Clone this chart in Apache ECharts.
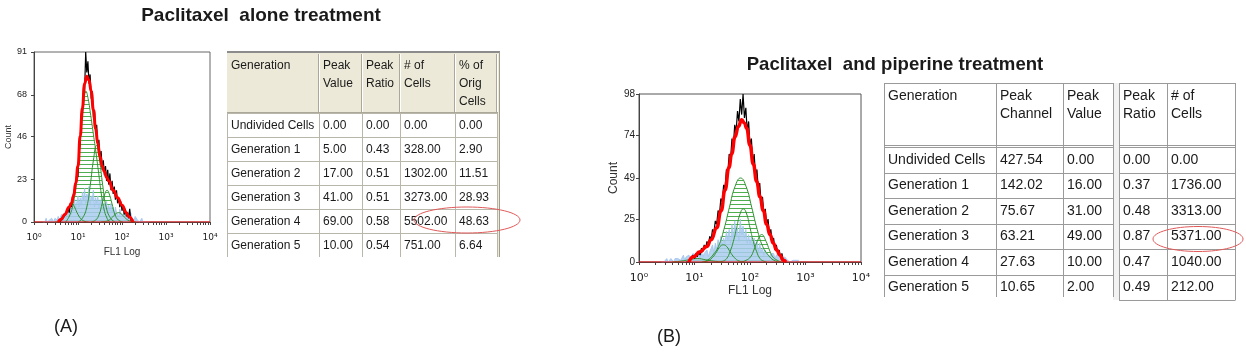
<!DOCTYPE html>
<html>
<head>
<meta charset="utf-8">
<title>Paclitaxel treatment - cell proliferation</title>
<script src="https://cdn.jsdelivr.net/npm/echarts@6/dist/echarts.min.js"></script>
<style>
	html, body { margin: 0; padding: 0; background: #fff; }
	#map { width: 1246px; height: 353px; }
</style>
</head>
<body>
<div id="map"></div>
<script>
// tick labels
var xTickLabels = ['10\u2070', '10\u00b9', '10\u00b2', '10\u00b3', '10\u2074'];
var yTicksA = [0, 23, 46, 68, 91];
var yTicksB = [0, 25, 49, 74, 98];

// tables
var generations = ['Undivided Cells', 'Generation 1', 'Generation 2', 'Generation 3', 'Generation 4', 'Generation 5'];
var headerA = [['Generation'], ['Peak', 'Value'], ['Peak', 'Ratio'], ['# of', 'Cells'], ['% of', 'Orig', 'Cells']];
var peakValueA = [0, 5, 17, 41, 69, 10];
var peakRatioA = [0, 0.43, 0.51, 0.51, 0.58, 0.54];
var cellsA = [0, 328, 1302, 3273, 5502, 751];
var origCellsA = [0, 2.90, 11.51, 28.93, 48.63, 6.64];

var headerB = [['Generation'], ['Peak', 'Channel'], ['Peak', 'Value'], ['Peak', 'Ratio'], ['# of', 'Cells']];
var peakChannelB = [427.54, 142.02, 75.67, 63.21, 27.63, 10.65];
var peakValueB = [0, 16, 31, 49, 10, 2];
var peakRatioB = [0, 0.37, 0.48, 0.87, 0.47, 0.49];
var cellsB = [0, 1736, 3313, 5371, 1040, 212];

// histograms (x in decades of FL1, one bin = 0.025 decade)
var binWidth = 0.025;
var histAStart = 0.55;
var histA = [0, 1, 0, 2, 1, 3, 2, 5, 4, 7, 5, 10, 8, 13, 12, 18, 17, 26, 24, 38,
	42, 58, 55, 72, 70, 91, 80, 86, 74, 79, 66, 70, 56, 60, 48, 52, 40, 44, 33, 38,
	28, 33, 25, 30, 22, 28, 20, 26, 17, 22, 15, 19, 12, 17, 10, 13, 8, 11, 6, 9,
	4, 7, 3, 5, 2, 7, 1, 2, 0];
var blueAStart = 0.2;
var blueA = [0, 1, 0, 2, 0, 1, 1, 0, 2, 1, 0, 2, 1, 1, 3, 1, 2, 4, 2, 3, 5, 2, 4, 6, 3,
	8, 4, 9, 6, 12, 7, 11, 14, 8, 13, 9, 16, 12, 18, 10, 15, 13, 19, 9, 14, 12, 17, 8, 13,
	10, 14, 7, 12, 9, 13, 6, 10, 8, 11, 5, 9, 6, 10, 5, 8, 4, 8, 5, 6, 3, 7, 4, 5,
	3, 6, 4, 5, 2, 4, 3, 5, 2, 3, 1, 3, 2, 1, 2, 0, 1, 2, 0, 1, 0, 1, 0, 0];
var fitA = [[0.55, 0], [0.62, 1.5], [0.7, 4], [0.8, 8], [0.85, 10], [0.9, 14], [0.95, 21], [1.0, 30],
	[1.05, 46], [1.1, 61], [1.15, 74], [1.2, 78], [1.25, 76], [1.3, 70], [1.35, 60], [1.4, 50],
	[1.45, 42], [1.5, 35], [1.55, 30], [1.6, 27], [1.65, 24], [1.7, 22], [1.8, 17], [1.9, 13],
	[2.0, 9], [2.1, 5], [2.15, 3], [2.25, 0]];
var gensA = [
	[[0.48, 0], [0.56, 0.3], [0.64, 1.4], [0.72, 4], [0.80, 8], [0.86, 10], [0.92, 8], [1.0, 4], [1.08, 1.4], [1.16, 0.3], [1.24, 0]],
	[[0.72, 0], [0.82, 4], [0.9, 11], [0.96, 20], [1.02, 34], [1.08, 52], [1.13, 64], [1.18, 70], [1.23, 66], [1.29, 57],
		[1.35, 47], [1.41, 37], [1.47, 26], [1.53, 15], [1.59, 7], [1.66, 2], [1.72, 0]],
	[[1.0, 0], [1.1, 2], [1.2, 8], [1.28, 20], [1.35, 33], [1.42, 41], [1.49, 33], [1.56, 20], [1.64, 8], [1.74, 2], [1.84, 0]],
	[[1.3, 0], [1.4, 1], [1.48, 4], [1.55, 10], [1.61, 15], [1.66, 17], [1.71, 15], [1.77, 10], [1.84, 4], [1.92, 1], [2.02, 0]],
	[[1.52, 0], [1.60, 0.2], [1.68, 0.7], [1.76, 2], [1.84, 4], [1.92, 5], [2.0, 4], [2.08, 2], [2.16, 0.7], [2.24, 0.2], [2.32, 0]]
];

var histBStart = 0.85;
var histB = [0, 1, 0, 2, 1, 4, 2, 5, 3, 6, 4, 8, 6, 10, 8, 12, 10, 15, 13, 19,
	17, 24, 22, 30, 28, 37, 35, 45, 43, 54, 52, 63, 60, 72, 68, 80, 76, 88, 82, 95,
	86, 98, 84, 90, 76, 82, 68, 72, 58, 63, 50, 54, 42, 46, 34, 38, 28, 31, 22, 25,
	16, 19, 11, 14, 7, 10, 5, 7, 3, 5, 1, 2, 0];
var blueBStart = 0.4;
var blueB = [0, 1, 0, 1, 2, 0, 1, 2, 1, 0, 2, 1, 2, 3, 1, 2, 4, 1, 3, 2, 4, 2, 3, 5,
	2, 4, 3, 5, 2, 6, 3, 5, 4, 7, 3, 6, 6, 10, 5, 11, 7, 13, 9, 15, 10, 14, 11, 18,
	13, 19, 11, 22, 14, 24, 15, 20, 12, 25, 16, 21, 14, 19, 11, 16, 10, 15, 9, 14, 8, 12, 6, 11,
	6, 8, 4, 7, 5, 6, 3, 5, 4, 5, 2, 4, 3, 4, 2, 3, 1, 3, 2, 1, 2, 0, 1, 1, 0, 1, 0, 1, 0];
var fitB = [[0.9, 0], [0.98, 3], [1.1, 6], [1.22, 9], [1.3, 13], [1.4, 20], [1.48, 30], [1.55, 42],
	[1.62, 55], [1.67, 63], [1.73, 73], [1.79, 79], [1.85, 83], [1.9, 81], [1.94, 78], [2.0, 68],
	[2.06, 57], [2.12, 47], [2.18, 38], [2.24, 30], [2.3, 22], [2.36, 16], [2.42, 11], [2.48, 7],
	[2.54, 4], [2.6, 1], [2.65, 0]];
var gensB = [
	[[0.6, 0], [0.75, 0.5], [0.9, 1.3], [1.05, 2], [1.2, 1.3], [1.35, 0.5], [1.5, 0]],
	[[1.16, 0], [1.24, 0.6], [1.32, 2.5], [1.40, 6], [1.46, 9], [1.52, 10], [1.58, 9], [1.64, 6], [1.72, 2.5], [1.80, 0.6], [1.88, 0]],
	[[1.13, 0], [1.23, 1], [1.33, 4], [1.43, 9], [1.53, 19], [1.63, 32], [1.73, 44], [1.83, 49], [1.93, 44], [2.03, 32],
		[2.13, 19], [2.23, 9], [2.33, 4], [2.43, 1], [2.53, 0]],
	[[1.46, 0], [1.52, 0.6], [1.58, 2], [1.64, 6], [1.70, 12], [1.76, 20], [1.82, 28], [1.88, 31], [1.94, 28], [2.0, 20],
		[2.06, 12], [2.12, 6], [2.18, 2], [2.24, 0.6], [2.30, 0]],
	[[1.85, 0], [1.93, 1], [2.01, 3], [2.07, 7], [2.13, 12], [2.21, 16], [2.29, 12], [2.35, 7], [2.41, 3], [2.49, 1], [2.57, 0]]
];

function bins(start, values) {
	var out = [];
	for (var i = 0; i < values.length; i++) {
		out.push([+(start + i * binWidth).toFixed(3), values[i]]);
	}
	return out;
}

// green horizontal hatch used to fill the generation peaks
function hatch(gap) {
	var c = document.createElement('canvas');
	c.width = 8;
	c.height = gap;
	var ctx = c.getContext('2d');
	ctx.fillStyle = '#4fae4f';
	ctx.fillRect(0, 0, 8, 1);
	return c;
}

// log ticks 1..9 in every decade
var logTicks = [];
for (var d = 0; d < 4; d++) {
	for (var k = 1; k < 10; k++) logTicks.push(d + Math.log10(k));
}
logTicks.push(4);

function panelSeries(gi, blueStart, blue, gens, histStart, hist, fit, fitWidth, gap) {
	var img = hatch(gap);
	var list = [];
	var i;
	// hatch first, then the blue events, then the peak outlines
	for (i = 0; i < gens.length; i++) {
		list.push({
			type: 'line', xAxisIndex: gi, yAxisIndex: gi, data: gens[i], smooth: true,
			symbol: 'none', lineStyle: { width: 0 },
			areaStyle: { color: { image: img, repeat: 'repeat' }, opacity: 1 }, z: 1
		});
	}
	list.push({
		type: 'line', xAxisIndex: gi, yAxisIndex: gi, data: bins(blueStart, blue),
		symbol: 'none', lineStyle: { color: '#a4c7ee', width: 1, opacity: 0.9 },
		areaStyle: { color: '#a9cbef', opacity: 0.85 }, z: 2
	});
	for (i = 0; i < gens.length; i++) {
		list.push({
			type: 'line', xAxisIndex: gi, yAxisIndex: gi, data: gens[i], smooth: true,
			symbol: 'none', lineStyle: { color: '#2f912f', width: 1 }, z: 3
		});
	}
	list.push({
		type: 'line', xAxisIndex: gi, yAxisIndex: gi, data: bins(histStart, hist),
		symbol: 'none', lineStyle: { color: '#000', width: 1.2 }, z: 4
	});
	list.push({
		type: 'line', xAxisIndex: gi, yAxisIndex: gi, data: [[0, 0], [4, 0]],
		symbol: 'none', lineStyle: { color: '#ff0000', width: 1 }, z: 5
	});
	list.push({
		type: 'line', xAxisIndex: gi, yAxisIndex: gi, data: fit, smooth: true, smoothMonotone: 'x',
		symbol: 'none', lineStyle: { color: '#ff0000', width: fitWidth }, z: 6
	});
	return list;
}

function xAxisFor(gi, labelSize, margin, nameSize, nameGap) {
	return {
		gridIndex: gi, type: 'value', min: 0, max: 4, interval: 1,
		name: 'FL1 Log', nameLocation: 'middle', nameGap: nameGap,
		nameTextStyle: { fontSize: nameSize, color: '#333', fontFamily: 'Liberation Sans' },
		axisLine: { lineStyle: { color: '#444' } },
		axisTick: { customValues: logTicks, length: 3, lineStyle: { color: '#444' } },
		axisLabel: {
			fontSize: labelSize, color: '#222', margin: margin, fontFamily: 'DejaVu Sans',
			formatter: function(v) { return xTickLabels[v]; }
		},
		splitLine: { show: false }
	};
}

function yAxisFor(gi, ticks, labelSize, margin, nameSize, nameGap) {
	return {
		gridIndex: gi, type: 'value', min: 0, max: ticks[ticks.length - 1],
		name: 'Count', nameLocation: 'middle', nameGap: nameGap,
		nameTextStyle: { fontSize: nameSize, color: '#333', fontFamily: 'Liberation Sans' },
		axisLine: { show: true, lineStyle: { color: '#444' } },
		axisTick: { show: true, customValues: ticks, length: 3, lineStyle: { color: '#444' } },
		axisLabel: { customValues: ticks, fontSize: labelSize, color: '#222', margin: margin, fontFamily: 'Liberation Sans' },
		splitLine: { show: false }
	};
}

function fmt(v) { return v.toFixed(2); }

function txt(x, y, s, font, align) {
	return {
		type: 'text', x: x, y: y, silent: true, z: 10,
		style: { text: s, font: font, fill: '#1a1a1a', textAlign: align || 'left', textVerticalAlign: 'middle' }
	};
}
function hline(x1, x2, y, color, w) {
	return { type: 'line', silent: true, z: 9, shape: { x1: x1, y1: y, x2: x2, y2: y }, style: { stroke: color, lineWidth: w || 1 } };
}
function vline(x, y1, y2, color, w) {
	return { type: 'line', silent: true, z: 9, shape: { x1: x, y1: y1, x2: x, y2: y2 }, style: { stroke: color, lineWidth: w || 1 } };
}

var elements = [];

// table A (grey windows style grid)
var colA = [227, 319, 362, 400, 455, 497];
var rowA = [113, 137, 161, 185, 209, 233, 257];
var fontA = '12px "Liberation Sans"';
elements.push({ type: 'rect', silent: true, z: 8, shape: { x: 227, y: 52, width: 273, height: 205 }, style: { fill: '#ece9d8' } });
elements.push({ type: 'rect', silent: true, z: 8, shape: { x: 227, y: 112, width: 271, height: 145 }, style: { fill: '#b9b6aa' } });
elements.push(hline(227, 500, 52, '#8c8c8c', 2));
elements.push(vline(499.5, 52, 257, '#a09d90', 1));
for (var c = 1; c < colA.length; c++) {
	elements.push(vline(colA[c] - 0.5, 54, 112, '#aca899'));
	elements.push(vline(colA[c] + 0.5, 54, 112, '#ffffff'));
}
elements.push(hline(227, 498, 112.5, '#aca899'));
for (var c = 0; c < headerA.length; c++) {
	for (var l = 0; l < headerA[c].length; l++) {
		elements.push(txt(colA[c] + 4, 66 + l * 18, headerA[c][l], fontA));
	}
}
var cellTextA = [generations, peakValueA.map(fmt), peakRatioA.map(fmt), cellsA.map(fmt), origCellsA.map(fmt)];
for (var r = 0; r < generations.length; r++) {
	for (var c = 0; c < 5; c++) {
		elements.push({
			type: 'rect', silent: true, z: 8,
			shape: { x: colA[c] + 1, y: rowA[r] + 1, width: colA[c + 1] - colA[c] - 1, height: rowA[r + 1] - rowA[r] - 1 },
			style: { fill: '#ffffff' }
		});
		elements.push(txt(colA[c] + 4, (rowA[r] + rowA[r + 1]) / 2 + 1, cellTextA[c][r], fontA));
	}
}

// table B (two plain grids side by side)
var colB1 = [884, 996, 1063, 1113];
var colB2 = [1119, 1167, 1235];
var rowB = [147, 172.5, 198, 223.5, 249, 274.5, 300];
var fontB = '14px "Liberation Sans"';
var gridB = '#9a9a9a';
elements.push({ type: 'rect', silent: true, z: 8, shape: { x: 884, y: 83, width: 351, height: 217 }, style: { fill: '#fff' } });
elements.push({ type: 'rect', silent: true, z: 8, shape: { x: 1113, y: 83, width: 6, height: 217 }, style: { fill: '#f2f2f2' } });
[colB1, colB2].forEach(function(cols, part) {
	var bottom = part === 0 ? 297 : 300.5;
	var x1 = cols[0], x2 = cols[cols.length - 1];
	elements.push(hline(x1, x2, 83.5, gridB));
	elements.push(hline(x1, x2, 145.5, gridB));
	elements.push(hline(x1, x2, 147.5, gridB));
	for (var r = 1; r < rowB.length - 1; r++) {
		elements.push(hline(x1, x2, Math.round(rowB[r]) + 0.5, gridB));
	}
	if (part === 1) elements.push(hline(x1, x2, 300.5, gridB));
	for (var c = 0; c < cols.length; c++) {
		elements.push(vline(cols[c] + 0.5, 83, bottom, gridB));
	}
});
var colsB = colB1.slice(0, 3).concat(colB2.slice(0, 2));
for (var c = 0; c < headerB.length; c++) {
	for (var l = 0; l < headerB[c].length; l++) {
		elements.push(txt(colsB[c] + 4, 96 + l * 18.5, headerB[c][l], fontB));
	}
}
var cellTextB = [generations, peakChannelB.map(fmt), peakValueB.map(fmt), peakRatioB.map(fmt), cellsB.map(fmt)];
for (var r = 0; r < generations.length; r++) {
	for (var c = 0; c < 5; c++) {
		elements.push(txt(colsB[c] + 4, (rowB[r] + rowB[r + 1]) / 2, cellTextB[c][r], fontB));
	}
}

// highlight circles
elements.push({ type: 'ellipse', silent: true, z: 11, shape: { cx: 467, cy: 220, rx: 53, ry: 13 }, style: { fill: 'none', stroke: '#e05a5a', lineWidth: 1 } });
elements.push({ type: 'ellipse', silent: true, z: 11, shape: { cx: 1198, cy: 239, rx: 45, ry: 12.5 }, style: { fill: 'none', stroke: '#e05a5a', lineWidth: 1 } });

// titles and panel letters
elements.push(txt(261, 16, 'Paclitaxel  alone treatment', 'bold 19px "Liberation Sans"', 'center'));
elements.push(txt(895, 65, 'Paclitaxel  and piperine treatment', 'bold 18.6px "Liberation Sans"', 'center'));
elements.push(txt(54, 327, '(A)', '18px "Liberation Sans"'));
elements.push(txt(657, 337, '(B)', '18px "Liberation Sans"'));

var myChart = echarts.init(document.getElementById('map'));
var option = {
	backgroundColor: '#fff',
	animation: false,
	grid: [
		{ left: 34, top: 52, width: 176, height: 170, show: true, borderColor: '#666', borderWidth: 1 },
		{ left: 639, top: 94, width: 222, height: 168, show: true, borderColor: '#555', borderWidth: 1 }
	],
	xAxis: [xAxisFor(0, 9, 11, 10, 25), xAxisFor(1, 11, 11, 12, 23)],
	yAxis: [yAxisFor(0, yTicksA, 9, 7, 9, 15), yAxisFor(1, yTicksB, 10, 4, 12, 19)],
	series: panelSeries(0, blueAStart, blueA, gensA, histAStart, histA, fitA, 3, 4)
		.concat(panelSeries(1, blueBStart, blueB, gensB, histBStart, histB, fitB, 3.5, 4)),
	graphic: { elements: elements }
};
myChart.setOption(option);
window.addEventListener('resize', function() {
	myChart.resize();
});
</script>
</body>
</html>
